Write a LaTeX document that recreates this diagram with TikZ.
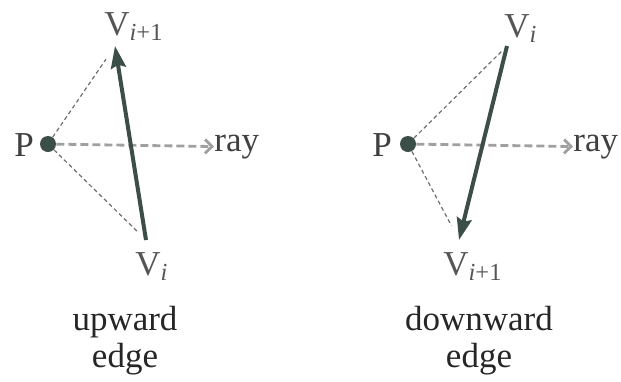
\documentclass[tikz,border=0pt]{standalone}
\usepackage{fontspec}
\setmainfont{LiberationSerif}[Extension=.ttf, UprightFont=*-Regular,
  ItalicFont=*-Italic, BoldFont=*-Bold]
\usepackage{xcolor}
\definecolor{ink}{RGB}{60, 78, 72}
\definecolor{labelgray}{RGB}{85, 85, 85}
\definecolor{raygray}{RGB}{160, 160, 160}
\definecolor{helpgray}{RGB}{110, 110, 110}
\usetikzlibrary{arrows.meta, positioning}
\tikzset{
  vdot/.style={circle, fill=ink, inner sep=0pt, minimum size=8pt},
  vlabel/.style={inner sep=0pt, anchor=base west, text=labelgray,
    font=\fontsize{17.5}{20}\selectfont},
  plabel/.style={inner sep=0pt, anchor=base west, text=black!75,
    font=\fontsize{17.5}{20}\selectfont},
  caption/.style={inner sep=0pt, anchor=north, align=center, text=black!85,
    font=\fontsize{17.5}{18.5}\selectfont},
  edgearrow/.style={-{Stealth[length=11pt, width=7.5pt, inset=1.5pt]},
    line width=2pt, color=ink},
  rayline/.style={-{Straight Barb[length=3.5pt, width=7pt]}, line width=1.4pt,
    color=raygray, dash pattern=on 4pt off 2pt},
  helpline/.style={line width=0.6pt, color=helpgray, dash pattern=on 2pt off 1.5pt}
}
\newcommand{\vsub}[1]{V\textsubscript{#1}}

\begin{document}
\begin{tikzpicture}[x=0.5pt, y=-0.5pt]
  \useasboundingbox (0,0) rectangle (621,381);

  % upward edge
  \node[vdot] (p1) at (48,144) {};
  \node[plabel] (pl1) at (14,156) {P};
  \coordinate (up1) at (146,240);
  \coordinate (up2) at (115,46);
  \node[vlabel] (vu2) at (104,35) {\vsub{\textit{i}+1}};
  \node[vlabel] (vu1) at (135,275) {\vsub{\textit{i}}};
  \node[plabel] (ray1) at (214,151) {ray};
  \draw[helpline, shorten >=8pt] (p1) -- (up2);
  \draw[helpline, shorten >=5pt] (p1) -- (up1);
  \draw[rayline] (p1) -- (ray1.west);
  \draw[edgearrow] (up1) -- (up2);
  \node[caption] (cap1) at (125,306) {upward\\edge};

  % downward edge
  \node[vdot] (p2) at (408,144) {};
  \node[plabel] (pl2) at (372,156) {P};
  \coordinate (dn1) at (507,46);
  \coordinate (dn2) at (459,240);
  \node[vlabel] (vd1) at (504,37) {\vsub{\textit{i}}};
  \node[vlabel] (vd2) at (443,275) {\vsub{\textit{i}+1}};
  \node[plabel] (ray2) at (573,151) {ray};
  \draw[helpline, shorten >=4pt] (p2) -- (dn1);
  \draw[helpline, shorten >=8pt] (p2) -- (dn2);
  \draw[rayline] (p2) -- (ray2.west);
  \draw[edgearrow] (dn1) -- (dn2);
  \node[caption] (cap2) at (479,306) {downward\\edge};
\end{tikzpicture}
\end{document}
